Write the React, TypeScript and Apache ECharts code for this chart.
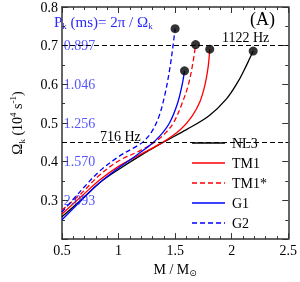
import React, { useEffect, useRef } from 'react';
import * as echarts from 'echarts';

const seriesNames = ['NL3', 'TM1', 'TM1*', 'G1', 'G2'];
const seriesColors = ['#000000', '#ff0000', '#ff0000', '#0000ff', '#0000ff'];
const seriesDashed = [false, false, true, false, true];

const nl3 = [[0.5, 0.258], [0.67, 0.302], [0.83, 0.345], [1.0, 0.38], [1.2, 0.417], [1.4, 0.451], [1.6, 0.483], [1.8, 0.519], [1.95, 0.561], [2.06, 0.609], [2.14, 0.655], [2.19, 0.686]];
const tm1 = [[0.5, 0.265], [0.67, 0.31], [0.83, 0.352], [1.0, 0.388], [1.2, 0.42], [1.4, 0.452], [1.55, 0.484], [1.65, 0.518], [1.72, 0.556], [1.765, 0.6], [1.792, 0.645], [1.806, 0.691]];
const tm1s = [[0.5, 0.275], [0.67, 0.318], [0.83, 0.365], [1.0, 0.402], [1.2, 0.43], [1.33, 0.453], [1.42, 0.476], [1.49, 0.503], [1.56, 0.55], [1.618, 0.6], [1.658, 0.657], [1.681, 0.703]];
const g1 = [[0.5, 0.25], [0.67, 0.3], [0.83, 0.345], [1.0, 0.384], [1.15, 0.415], [1.28, 0.443], [1.37, 0.468], [1.45, 0.5], [1.52, 0.55], [1.562, 0.599], [1.583, 0.635]];
const g2 = [[0.5, 0.27], [0.67, 0.326], [0.83, 0.375], [1.0, 0.413], [1.17, 0.442], [1.22, 0.452], [1.29, 0.476], [1.356, 0.516], [1.41, 0.574], [1.453, 0.641], [1.481, 0.699], [1.5, 0.744]];
const allSeries = [nl3, tm1, tm1s, g1, g2];

const hzLines = [0.705, 0.45];
const periodLabels = ['0.897', '1.046', '1.256', '1.570', '2.093'];
const periodOmega = [0.7, 0.6, 0.5, 0.4, 0.3];
const periodLabelM = 0.515;

const FONT = 'Liberation Serif';
const BLUE_TXT = '#2a2aff';

export default function App() {
  const ref = useRef<HTMLDivElement>(null);
  useEffect(() => {
    if (!ref.current) return;
    const chart = echarts.init(ref.current, null, { renderer: 'svg' });
    const axisLine = { show: true, lineStyle: { color: '#333', width: 1.5 } };
    const tickStyle = { color: '#333', width: 1 };
    const lineSeries = allSeries.map((d, i) => ({
      name: seriesNames[i],
      type: 'line',
      data: d,
      smooth: 0.35,
      symbol: 'none',
      lineStyle: { color: seriesColors[i], width: 1.3, type: seriesDashed[i] ? [5, 3] : 'solid' },
      itemStyle: { color: seriesColors[i] },
      z: 3,
      ...(i === 0
        ? {
            markLine: {
              silent: true,
              symbol: 'none',
              label: { show: false },
              lineStyle: { color: '#000', width: 1.2, type: [5, 3] },
              data: hzLines.map((v) => ({ yAxis: v })),
            },
          }
        : {}),
    }));

    const legendX = 192;
    const legendTop = 143;
    const legendStep = 20;
    const legendGraphics: any[] = [];
    seriesNames.forEach((n, i) => {
      const y = legendTop + i * legendStep;
      legendGraphics.push({
        type: 'line',
        shape: { x1: legendX, y1: y, x2: legendX + 33, y2: y },
        style: { stroke: seriesColors[i], lineWidth: 1.3, lineDash: seriesDashed[i] ? [5, 3] : null },
        z: 10,
      });
      legendGraphics.push({
        type: 'text', x: legendX + 40, y,
        style: { text: n, fontFamily: FONT, fontSize: 14, fill: '#000', verticalAlign: 'middle' },
        z: 10,
      });
    });

    const option: any = {
      animation: false,
      grid: { left: 49, right: 11, top: 6, bottom: 35 },
      xAxis: [
        {
          type: 'value', min: 0.5, max: 2.5, interval: 0.5,
          axisLine, splitLine: { show: false },
          axisTick: { inside: true, length: 6, lineStyle: tickStyle },
          minorTick: { show: true, splitNumber: 5, length: 3, lineStyle: tickStyle },
          axisLabel: { fontFamily: FONT, fontSize: 14, color: '#000', margin: 4, formatter: (v: number) => String(v) },
          name: '{t|M / M}{s|⊙}',
          nameLocation: 'middle', nameGap: 15,
          nameTextStyle: { rich: { t: { fontFamily: FONT, fontSize: 14, color: '#000', lineHeight: 16 }, s: { fontFamily: 'DejaVu Sans', fontSize: 9, color: '#000', verticalAlign: 'bottom', lineHeight: 10 } } },
        },
        {
          type: 'value', position: 'top', min: 0.5, max: 2.5, interval: 0.5,
          axisLine, splitLine: { show: false }, axisLabel: { show: false },
          axisTick: { inside: true, length: 6, lineStyle: tickStyle },
          minorTick: { show: true, splitNumber: 5, length: 3, lineStyle: tickStyle },
        },
      ],
      yAxis: [
        {
          type: 'value', min: 0.2, max: 0.8, interval: 0.1,
          axisLine, splitLine: { show: false },
          axisTick: { inside: true, length: 6, lineStyle: tickStyle },
          minorTick: { show: true, splitNumber: 2, length: 3, lineStyle: tickStyle },
          axisLabel: { fontFamily: FONT, fontSize: 14, color: '#000', margin: 4, showMinLabel: false, formatter: (v: number) => v.toFixed(1) },
          name: '{o|Ω}{s|k}{t| (10}{p|4}{t| s}{p|-1}{t|)}',
          nameLocation: 'middle', nameGap: 36, nameRotate: 90,
          nameTextStyle: {
            rich: {
              o: { fontFamily: FONT, fontSize: 15, color: '#000', lineHeight: 18 },
              t: { fontFamily: FONT, fontSize: 14, color: '#000', lineHeight: 18 },
              s: { fontFamily: FONT, fontSize: 9, color: '#000', verticalAlign: 'bottom', lineHeight: 12 },
              p: { fontFamily: FONT, fontSize: 9, color: '#000', verticalAlign: 'top', lineHeight: 12 },
            },
          },
        },
        {
          type: 'value', position: 'right', min: 0.2, max: 0.8, interval: 0.1,
          axisLine, splitLine: { show: false }, axisLabel: { show: false },
          axisTick: { inside: true, length: 6, lineStyle: tickStyle },
          minorTick: { show: true, splitNumber: 2, length: 3, lineStyle: tickStyle },
        },
      ],
      series: [
        ...lineSeries,
        {
          name: 'ends', type: 'scatter', symbol: 'circle', symbolSize: 9,
          itemStyle: { color: '#000' },
          data: allSeries.map((d) => d[d.length - 1]),
          z: 5,
        },
        {
          name: 'periods', type: 'scatter', symbolSize: 0, silent: true,
          data: periodOmega.map((o, i) => ({ value: [periodLabelM, o], label: { formatter: periodLabels[i] } })),
          label: { show: true, position: 'right', distance: 0, fontFamily: FONT, fontSize: 14, color: BLUE_TXT },
          z: 4,
        },
      ],
      graphic: [
        {
          type: 'text', left: 54, top: 14,
          style: {
            text: '{t|P}{s|k}{t| (ms)= 2π / Ω}{s|k}',
            rich: {
              t: { fontFamily: FONT, fontSize: 15, fill: BLUE_TXT, lineHeight: 17 },
              s: { fontFamily: FONT, fontSize: 9, fill: BLUE_TXT, verticalAlign: 'bottom', lineHeight: 10 },
            },
          },
        },
        { type: 'text', left: 250, top: 10, style: { text: '(A)', fontFamily: FONT, fontSize: 18, fill: '#000' } },
        { type: 'text', left: 222, top: 30, style: { text: '1122 Hz', fontFamily: FONT, fontSize: 14, fill: '#000' } },
        { type: 'text', left: 100, top: 129, style: { text: '716 Hz', fontFamily: FONT, fontSize: 14, fill: '#000' } },
        ...legendGraphics,
      ],
    };
    chart.setOption(option);
    return () => chart.dispose();
  }, []);
  return <div ref={ref} style={{ position: 'fixed', left: 0, top: 0, width: 300, height: 282 }} />;
}
